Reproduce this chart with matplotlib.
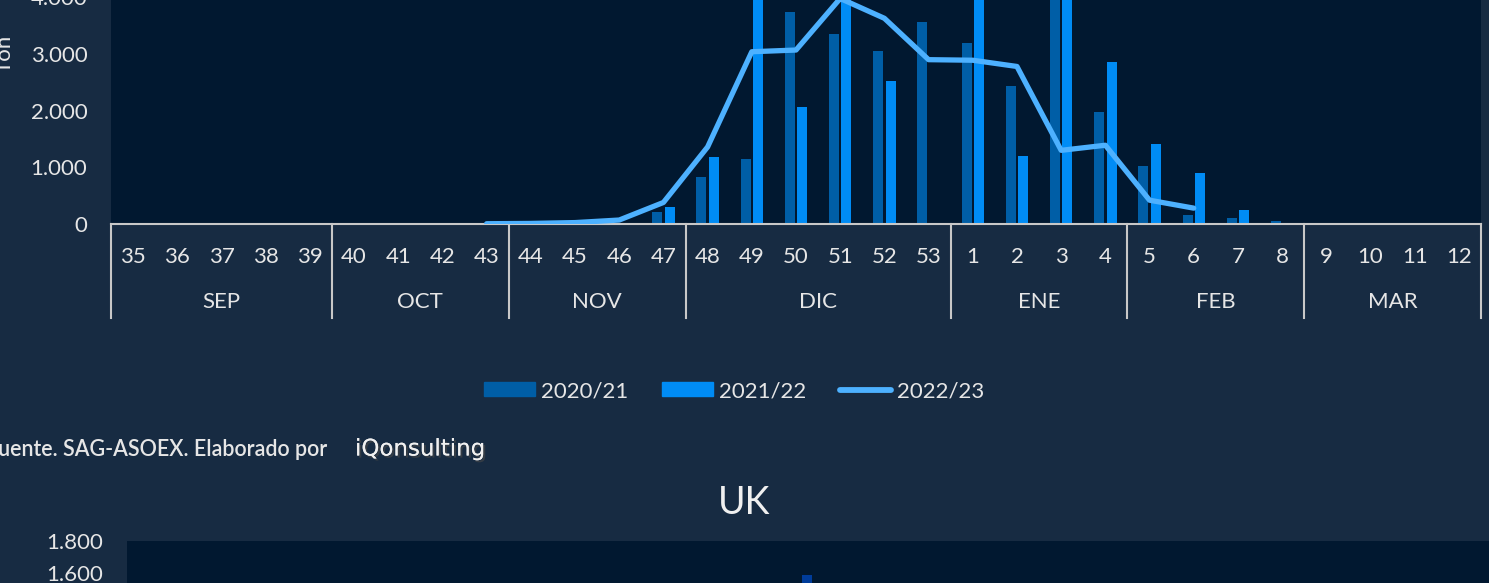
import numpy as np
import matplotlib
matplotlib.use("Agg")
import matplotlib.pyplot as plt
from matplotlib.patches import Patch
from matplotlib.lines import Line2D
from matplotlib.ticker import FuncFormatter
import matplotlib.patheffects as pe
import matplotlib.transforms as mtransforms

plt.rcParams['font.family'] = ['Lato', 'DejaVu Sans']

# Data (Ton per week)
weeks = [35, 36, 37, 38, 39, 40, 41, 42, 43, 44, 45, 46, 47, 48, 49, 50, 51, 52, 53,
         1, 2, 3, 4, 5, 6, 7, 8, 9, 10, 11, 12]
months = ["SEP", "OCT", "NOV", "DIC", "ENE", "FEB", "MAR"]
month_weeks = [5, 4, 4, 6, 4, 4, 4]  # number of weeks in each month group

s2020_21 = [0, 0, 0, 0, 0, 0, 0, 0, 0, 0, 0, 0, 220, 830, 1150, 3740, 3360, 3060, 3560,
            3200, 2430, 4500, 1980, 1020, 160, 110, 55, 0, 0, 0, 0]
s2021_22 = [0, 0, 0, 0, 0, 0, 0, 0, 0, 0, 0, 0, 300, 1180, 4800, 2060, 5200, 2530, 0,
            4600, 1200, 4900, 2860, 1410, 900, 240, 10, 0, 0, 0, 0]
s2022_23 = [np.nan] * 8 + [5, 10, 25, 70, 380, 1360, 3040, 3070, 3980, 3630, 2900,
                           2890, 2780, 1300, 1390, 420, 280] + [np.nan] * 6

# UK panel (only the top of one bar is visible)
uk_2020_21 = [0, 0, 0, 0, 0, 0, 0, 0, 0, 0, 0, 0, 0, 0, 0, 1590, 0, 0, 0,
              0, 0, 0, 0, 0, 0, 0, 0, 0, 0, 0, 0]

fig_bg = "#172b42"
ax_bg = "#011830"
c_dark = "#005ea6"
c_bright = "#008cf5"
c_line = "#4db1ff"
c_text = "#e6e6e6"
c_axis = "#c8c8c8"

W, H = 1489, 583
fig = plt.figure(figsize=(W / 100, H / 100), dpi=100, facecolor=fig_bg)


def px_axes(left, top, right, bottom):
    return fig.add_axes([left / W, (H - bottom) / H, (right - left) / W, (bottom - top) / H])


thousands = FuncFormatter(lambda v, p: f"{int(v):,}".replace(",", "."))

# --- main chart ---
ax = px_axes(111, -116, 1481, 224)
ax.set_facecolor(ax_bg)
x = np.arange(len(weeks))
ax.bar(x - 0.14, s2020_21, width=0.225, color=c_dark, zorder=2)
ax.bar(x + 0.14, s2021_22, width=0.225, color=c_bright, zorder=2)
ax.plot(x, s2022_23, color=c_line, lw=3.8, solid_capstyle='round', solid_joinstyle='round', zorder=3)
ax.set_xlim(-0.5, len(weeks) - 0.5)
ax.set_ylim(0, 6000)
ax.set_yticks(range(0, 6001, 1000))
ax.yaxis.set_major_formatter(thousands)
ax.tick_params(axis='y', length=0, pad=17, labelsize=16, labelcolor=c_text)
ax.set_xticks([])
for s in ["top", "right", "left"]:
    ax.spines[s].set_visible(False)
ax.spines["bottom"].set_color(c_axis)
ax.spines["bottom"].set_linewidth(1.5)
ax.set_ylabel("Ton", fontsize=16, color=c_text)
ax.yaxis.set_label_coords((15 - 111) / 1370, 0.5)

trans = mtransforms.blended_transform_factory(ax.transData, ax.transAxes)
for i, w in enumerate(weeks):
    ax.text(i, -33 / 340, str(w), transform=trans, ha='center', va='center',
            fontsize=16, color=c_text)
edges = np.concatenate([[0], np.cumsum(month_weeks)]) - 0.5
for e in edges:
    ax.add_line(Line2D([e, e], [0, -94 / 340], transform=trans, color=c_axis,
                       lw=1.5, clip_on=False))
for m, a, b in zip(months, edges[:-1], edges[1:]):
    ax.text((a + b) / 2, -78 / 340, m, transform=trans, ha='center', va='center',
            fontsize=16, color=c_text)

# legend
handles = [Patch(color=c_dark), Patch(color=c_bright),
           Line2D([0], [0], color=c_line, lw=4.2, solid_capstyle='round')]
fig.legend(handles, ["2020/21", "2021/22", "2022/23"], loc='center',
           bbox_to_anchor=(734 / W, 1 - 391 / H), ncol=3, frameon=False,
           fontsize=16, labelcolor=c_text, handlelength=2.3, handleheight=0.6,
           handletextpad=0.27, columnspacing=1.5)

# source
fig.text(-14 / W, 1 - 450 / H, "Fuente. SAG-ASOEX. Elaborado por", fontsize=15.5,
         fontweight='semibold', color=c_text, va='center', ha='left')
fig.text(355 / W, 1 - 449 / H, "iQonsulting", fontsize=16.5, color="#f0f0f0",
         family=['DejaVu Sans'], va='center', ha='left',
         path_effects=[pe.withSimplePatchShadow(offset=(1.5, -1.5), alpha=0.6), pe.Normal()])

# --- UK chart ---
fig.text(0.5, 1 - 503 / H, "UK", fontsize=27, fontweight='normal', color="#f0f0f0",
         ha='center', va='center')
ax2 = px_axes(127, 541, 1500, 829)
ax2.set_facecolor(ax_bg)
ax2.bar(x - 0.14, uk_2020_21, width=0.225, color="#003c9a")
ax2.set_xlim(-0.5, len(weeks) - 0.5)
ax2.set_ylim(0, 1800)
ax2.set_yticks(range(0, 1801, 200))
ax2.yaxis.set_major_formatter(thousands)
ax2.tick_params(axis='y', length=0, pad=17, labelsize=16, labelcolor=c_text)
ax2.set_xticks([])
for s in ax2.spines.values():
    s.set_visible(False)

fig.savefig("out.png", dpi=100, facecolor=fig_bg)
